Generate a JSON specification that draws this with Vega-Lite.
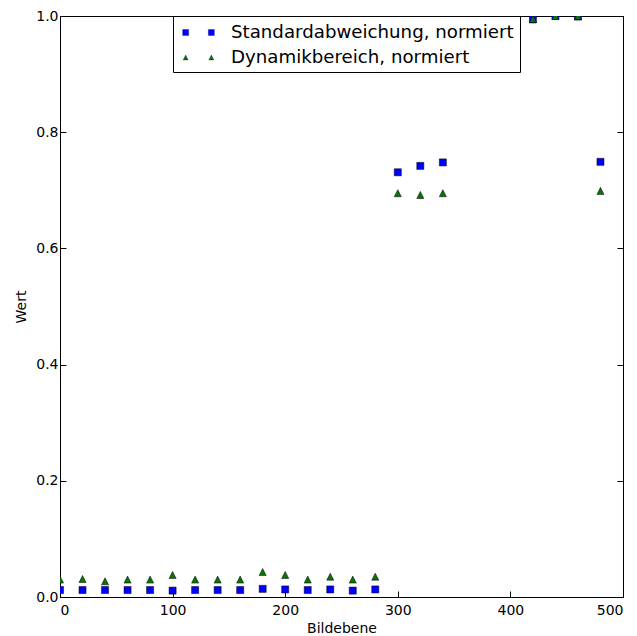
{
  "$schema": "https://vega.github.io/schema/vega-lite/v6.json",
  "width": 563,
  "height": 581,
  "autosize": "none",
  "padding": {"left": 60, "top": 16, "right": 14, "bottom": 39},
  "background": "white",
  "config": {
    "font": "DejaVu Sans",
    "view": {"stroke": "black", "strokeWidth": 1},
    "axis": {
      "grid": false,
      "domain": false,
      "ticks": true,
      "tickColor": "black",
      "tickWidth": 1,
      "tickSize": -6,
      "labelColor": "black",
      "labelFont": "DejaVu Sans",
      "labelFontSize": 14,
      "titleColor": "black",
      "titleFont": "DejaVu Sans",
      "titleFontSize": 14,
      "titleFontWeight": "normal"
    }
  },
  "data": {
    "values": [
      {"ebene": 0, "wert": 0.012, "reihe": "Standardabweichung, normiert"},
      {"ebene": 20, "wert": 0.012, "reihe": "Standardabweichung, normiert"},
      {"ebene": 40, "wert": 0.012, "reihe": "Standardabweichung, normiert"},
      {"ebene": 60, "wert": 0.012, "reihe": "Standardabweichung, normiert"},
      {"ebene": 80, "wert": 0.012, "reihe": "Standardabweichung, normiert"},
      {"ebene": 100, "wert": 0.011, "reihe": "Standardabweichung, normiert"},
      {"ebene": 120, "wert": 0.012, "reihe": "Standardabweichung, normiert"},
      {"ebene": 140, "wert": 0.012, "reihe": "Standardabweichung, normiert"},
      {"ebene": 160, "wert": 0.012, "reihe": "Standardabweichung, normiert"},
      {"ebene": 180, "wert": 0.014, "reihe": "Standardabweichung, normiert"},
      {"ebene": 200, "wert": 0.013, "reihe": "Standardabweichung, normiert"},
      {"ebene": 220, "wert": 0.012, "reihe": "Standardabweichung, normiert"},
      {"ebene": 240, "wert": 0.013, "reihe": "Standardabweichung, normiert"},
      {"ebene": 260, "wert": 0.011, "reihe": "Standardabweichung, normiert"},
      {"ebene": 280, "wert": 0.013, "reihe": "Standardabweichung, normiert"},
      {"ebene": 300, "wert": 0.731, "reihe": "Standardabweichung, normiert"},
      {"ebene": 320, "wert": 0.742, "reihe": "Standardabweichung, normiert"},
      {"ebene": 340, "wert": 0.748, "reihe": "Standardabweichung, normiert"},
      {"ebene": 420, "wert": 0.994, "reihe": "Standardabweichung, normiert"},
      {"ebene": 440, "wert": 1.0, "reihe": "Standardabweichung, normiert"},
      {"ebene": 460, "wert": 0.999, "reihe": "Standardabweichung, normiert"},
      {"ebene": 480, "wert": 0.749, "reihe": "Standardabweichung, normiert"},
      {"ebene": 0, "wert": 0.030, "reihe": "Dynamikbereich, normiert"},
      {"ebene": 20, "wert": 0.031, "reihe": "Dynamikbereich, normiert"},
      {"ebene": 40, "wert": 0.027, "reihe": "Dynamikbereich, normiert"},
      {"ebene": 60, "wert": 0.030, "reihe": "Dynamikbereich, normiert"},
      {"ebene": 80, "wert": 0.030, "reihe": "Dynamikbereich, normiert"},
      {"ebene": 100, "wert": 0.038, "reihe": "Dynamikbereich, normiert"},
      {"ebene": 120, "wert": 0.030, "reihe": "Dynamikbereich, normiert"},
      {"ebene": 140, "wert": 0.030, "reihe": "Dynamikbereich, normiert"},
      {"ebene": 160, "wert": 0.030, "reihe": "Dynamikbereich, normiert"},
      {"ebene": 180, "wert": 0.043, "reihe": "Dynamikbereich, normiert"},
      {"ebene": 200, "wert": 0.038, "reihe": "Dynamikbereich, normiert"},
      {"ebene": 220, "wert": 0.030, "reihe": "Dynamikbereich, normiert"},
      {"ebene": 240, "wert": 0.035, "reihe": "Dynamikbereich, normiert"},
      {"ebene": 260, "wert": 0.030, "reihe": "Dynamikbereich, normiert"},
      {"ebene": 280, "wert": 0.035, "reihe": "Dynamikbereich, normiert"},
      {"ebene": 300, "wert": 0.695, "reihe": "Dynamikbereich, normiert"},
      {"ebene": 320, "wert": 0.692, "reihe": "Dynamikbereich, normiert"},
      {"ebene": 340, "wert": 0.695, "reihe": "Dynamikbereich, normiert"},
      {"ebene": 420, "wert": 0.995, "reihe": "Dynamikbereich, normiert"},
      {"ebene": 440, "wert": 1.0, "reihe": "Dynamikbereich, normiert"},
      {"ebene": 460, "wert": 1.0, "reihe": "Dynamikbereich, normiert"},
      {"ebene": 480, "wert": 0.699, "reihe": "Dynamikbereich, normiert"}
    ]
  },
  "layer": [
    {
      "mark": {"type": "point", "filled": true, "clip": true, "size": 50, "opacity": 1, "stroke": "black", "strokeWidth": 0.5},
      "encoding": {
        "x": {
          "field": "ebene", "type": "quantitative",
          "scale": {"domain": [0, 500], "nice": false, "zero": false},
          "axis": {"orient": "bottom", "values": [0, 100, 200, 300, 400, 500], "labelPadding": 12, "title": "Bildebene", "titlePadding": 4}
        },
        "y": {
          "field": "wert", "type": "quantitative",
          "scale": {"domain": [0, 1], "nice": false, "zero": false},
          "axis": {"orient": "left", "values": [0, 0.2, 0.4, 0.6, 0.8, 1.0], "format": ".1f", "labelPadding": 8, "title": "Wert", "titlePadding": 7}
        },
        "color": {
          "field": "reihe", "type": "nominal",
          "scale": {"domain": ["Standardabweichung, normiert", "Dynamikbereich, normiert"], "range": ["#0000ff", "#0a720a"]},
          "legend": null
        },
        "shape": {
          "field": "reihe", "type": "nominal",
          "scale": {"domain": ["Standardabweichung, normiert", "Dynamikbereich, normiert"], "range": ["square", "M0,-1L1,1L-1,1Z"]},
          "legend": null
        }
      }
    },
    {
      "transform": [{"filter": {"field": "ebene", "lt": -1}}],
      "mark": {"type": "point", "filled": true, "opacity": 1, "size": 400, "stroke": "black", "strokeWidth": 0.3},
      "encoding": {
        "x": {
          "field": "ebene", "type": "quantitative",
          "axis": {"orient": "top", "values": [0, 100, 200, 300, 400, 500], "labels": false, "title": null, "ticks": true}
        },
        "y": {
          "field": "wert", "type": "quantitative",
          "axis": {"orient": "right", "values": [0, 0.2, 0.4, 0.6, 0.8, 1.0], "labels": false, "title": null, "ticks": true}
        },
        "color": {
          "field": "reihe", "type": "nominal",
          "scale": {"domain": ["Standardabweichung, normiert", "Dynamikbereich, normiert"], "range": ["#0000ff", "#0a720a"]},
          "legend": {
            "title": null,
            "orient": "none",
            "legendX": 113,
            "legendY": 0,
            "direction": "vertical",
            "fillColor": "white",
            "strokeColor": "black",
            "cornerRadius": 0,
            "padding": 6,
            "symbolSize": 400,
            "symbolOffset": 9,
            "symbolOpacity": 1,
            "symbolStrokeColor": "black",
            "symbolStrokeWidth": 0.3,
            "labelOffset": 22,
            "labelFont": "DejaVu Sans",
            "labelFontSize": 18.2,
            "labelColor": "black",
            "labelLimit": 400,
            "rowPadding": 6
          }
        },
        "shape": {
          "field": "reihe", "type": "nominal",
          "scale": {
            "domain": ["Standardabweichung, normiert", "Dynamikbereich, normiert"],
            "range": [
              "M-1.585,-0.3H-0.985V0.3H-1.585Z M0.985,-0.3H1.585V0.3H0.985Z",
              "M-1.285,-0.25L-1.035,0.25L-1.535,0.25Z M1.285,-0.25L1.535,0.25L1.035,0.25Z"
            ]
          }
        }
      }
    }
  ],
  "resolve": {
    "scale": {"color": "independent", "shape": "independent"},
    "axis": {"x": "independent", "y": "independent"}
  }
}
